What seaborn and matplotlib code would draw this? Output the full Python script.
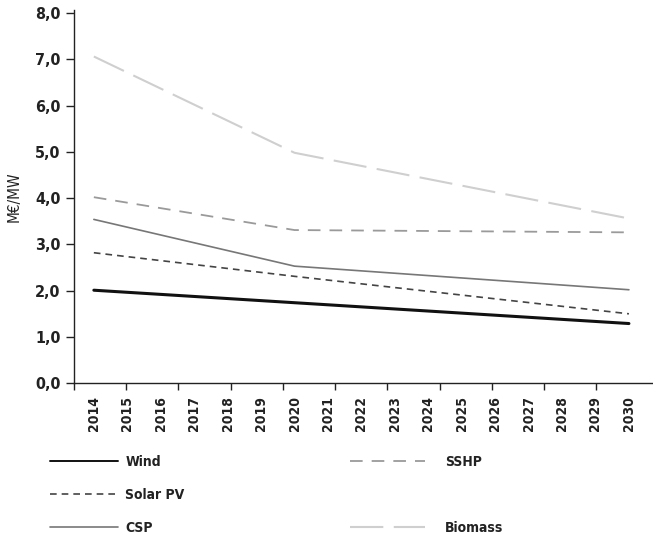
import numpy as np
import pandas as pd
import matplotlib
matplotlib.use("Agg")
import matplotlib.pyplot as plt
from matplotlib.lines import Line2D
from matplotlib.ticker import FuncFormatter
import seaborn as sns

sns.set_theme(style="ticks")
plt.rcParams["font.family"] = ["DejaVu Sans"]
plt.rcParams["font.stretch"] = "condensed"
plt.rcParams["font.weight"] = "bold"

# data (M€/MW)
years = [2014, 2020, 2030]
wind = [2.01, 1.74, 1.29]
solar_pv = [2.82, 2.31, 1.50]
csp = [3.54, 2.53, 2.02]
sshp = [4.02, 3.31, 3.26]
biomass = [7.06, 4.98, 3.56]
techs = ["Wind", "Solar PV", "CSP", "SSHP", "Biomass"]
year_labels = list(range(2014, 2031))

df = pd.DataFrame({
    "year": years * 5,
    "value": wind + solar_pv + csp + sshp + biomass,
    "tech": [t for t in techs for _ in years],
})

styles = {
    "Wind": dict(color="#111111", lw=2.2, dashes=None),
    "Solar PV": dict(color="#444444", lw=1.2, dashes=(4, 3)),
    "CSP": dict(color="#777777", lw=1.2, dashes=None),
    "SSHP": dict(color="#9a9a9a", lw=1.3, dashes=(7, 5)),
    "Biomass": dict(color="#cfcfcf", lw=1.5, dashes=(16, 5)),
}

fig = plt.figure(figsize=(6.53, 5.39), dpi=100)
ax = fig.add_axes([0.113, 0.289, 0.887, 0.692])

handles = {}
for t in techs:
    st = styles[t]
    sns.lineplot(data=df[df["tech"] == t], x="year", y="value", ax=ax,
                 color=st["color"], linewidth=st["lw"], legend=False)
    line = ax.get_lines()[-1]
    h = Line2D([], [], color=st["color"], lw=1.4 if t == "Wind" else st["lw"])
    if st["dashes"] is not None:
        line.set_dashes(st["dashes"])
        h.set_dashes(st["dashes"])
    handles[t] = h

x0, x1 = 2013.4, 2030.72
ax.set_xlim(x0, x1)
ax.set_ylim(0, 8.06)
ax.set_xticks(year_labels)
ax.set_xticklabels([str(y) for y in year_labels], rotation=90)
ax.set_xticks([x0 + k * 1.5625 for k in range(11)], minor=True)
ax.tick_params(axis="x", which="major", length=0, pad=9, labelsize=10, colors="#222222")
ax.tick_params(axis="x", which="minor", length=5, width=1, color="#222222")
ax.set_yticks(np.arange(0, 9, 1))
ax.yaxis.set_major_formatter(FuncFormatter(lambda v, p: f"{v:.1f}".replace(".", ",")))
ax.tick_params(axis="y", length=6, width=1, color="#222222", labelsize=11.5, labelcolor="#222222")
ax.set_xlabel("")
ax.set_ylabel("M€/MW", fontsize=11, color="#222222", labelpad=10)
for s in ["top", "right"]:
    ax.spines[s].set_visible(False)
for s in ["left", "bottom"]:
    ax.spines[s].set_color("#222222")
    ax.spines[s].set_linewidth(1)

blank = Line2D([], [], color="none")
common = dict(loc="upper left", frameon=False, labelspacing=1.36, fontsize=10,
              labelcolor="#222222", borderaxespad=0, borderpad=0)
leg1 = fig.legend([handles["Wind"], handles["Solar PV"], handles["CSP"]],
                  ["Wind", "Solar PV", "CSP"], bbox_to_anchor=(0.076, 0.156),
                  handlelength=4.95, handletextpad=0.5, **common)
leg2 = fig.legend([handles["SSHP"], blank, handles["Biomass"]],
                  ["SSHP", "", "Biomass"], bbox_to_anchor=(0.536, 0.156),
                  handlelength=5.4, handletextpad=1.45, **common)

fig.savefig("out.png", dpi=100)
